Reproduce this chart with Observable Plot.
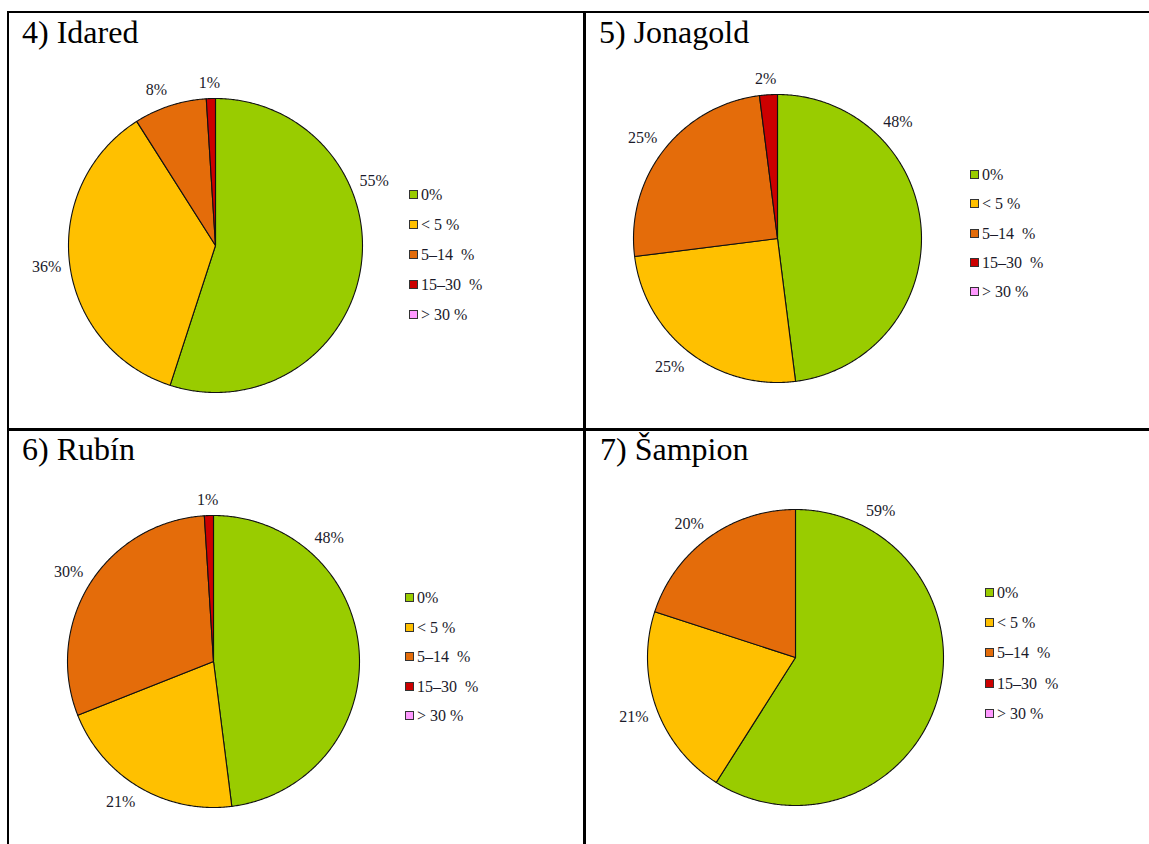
<!DOCTYPE html>
<html>
<head>
<meta charset="utf-8">
<script src="https://cdn.jsdelivr.net/npm/d3@7"></script>
<script src="https://cdn.jsdelivr.net/npm/@observablehq/plot@0.6"></script>
<style>
  html, body { margin: 0; padding: 0; background: #fff; }
  #page { position: relative; width: 1149px; height: 844px; overflow: hidden; font-family: 'Liberation Serif', 'Times New Roman', serif; }
  .line { position: absolute; background: #000; }
  .title { position: absolute; font-family: 'Liberation Serif', serif; font-size: 32px; line-height: 32px; color: #000; white-space: nowrap; }
  .panel { position: absolute; }
  .legend-row { position: absolute; height: 16px; font-family: 'Liberation Serif', serif; font-size: 16px; line-height: 16px; color: #1a1a2a; white-space: pre; }
  .legend-row .sw { position: absolute; left: 0; top: 3px; width: 7px; height: 7px; border: 1px solid #333; }
  .legend-row .lb { position: absolute; left: 12px; top: 0; }
</style>
</head>
<body>
<div id="page"></div>
<script>
// ---- data ----
const categories = ["0%", "< 5 %", "5–14  %", "15–30  %", "> 30 %"];
const colors = ["#99cc00", "#ffc000", "#e46c0a", "#cc0000", "#ff99ff"];
const titles = ["4) Idared", "5) Jonagold", "6) Rubín", "7) Šampion"];
const idared = [55, 36, 8, 1, 0];
const jonagold = [48, 25, 25, 2, 0];
const rubin = [48, 21, 30, 1, 0];
const sampion = [59, 21, 20, 0, 0];
const series = [idared, jonagold, rubin, sampion];

// ---- layout ----
const panels = [
  {left: 9,   top: 13,  w: 574, h: 415, cx: 215, cy: 245, r: 147, titleX: 22,  titleTop: 16,  legX: 409, legY: 195, legStep: 30,   firstLabelAngle: 68},
  {left: 586, top: 13,  w: 563, h: 415, cx: 777, cy: 238, r: 144, titleX: 599, titleTop: 16,  legX: 970, legY: 175, legStep: 29.3, firstLabelAngle: 44},
  {left: 9,   top: 431, w: 574, h: 413, cx: 213, cy: 661, r: 146, titleX: 22,  titleTop: 433, legX: 405, legY: 598, legStep: 29.5, firstLabelAngle: 41},
  {left: 586, top: 431, w: 563, h: 413, cx: 795, cy: 657, r: 148, titleX: 600, titleTop: 433, legX: 985, legY: 593, legStep: 30.2, firstLabelAngle: 27}
];

const page = document.getElementById("page");
function addLine(l, t, w, h) {
  const d = document.createElement("div");
  d.className = "line";
  Object.assign(d.style, {left: l + "px", top: t + "px", width: w + "px", height: h + "px"});
  page.appendChild(d);
}
addLine(7, 11, 1149, 2);     // outer top
addLine(7, 11, 2, 844);      // outer left
addLine(583, 11, 3, 844);    // vertical divider
addLine(7, 428, 1149, 3);    // horizontal divider

const clamp = v => Math.max(-1, Math.min(1, v));

panels.forEach((p, k) => {
  const values = series[k];
  const total = d3.sum(values);
  const rows = [];
  const labels = [];
  let cum = 0;
  values.forEach((v, i) => {
    if (v <= 0) { cum += v; return; }
    const a0 = cum / total * 2 * Math.PI;
    const a1 = (cum + v) / total * 2 * Math.PI;
    const n = Math.max(2, Math.ceil((a1 - a0) / (Math.PI / 360)));
    rows.push({cat: categories[i], x: 0, y: 0});
    for (let j = 0; j <= n; j++) {
      const a = a0 + (a1 - a0) * j / n;
      rows.push({cat: categories[i], x: Math.sin(a), y: Math.cos(a)});
    }
    rows.push({cat: categories[i], x: 0, y: 0});
    const am = (i === 0 ? p.firstLabelAngle * Math.PI / 180 : (a0 + a1) / 2);
    const dx = Math.sin(am), dy = Math.cos(am);
    const gap = 9, halfW = 14, halfH = 7;
    labels.push({
      text: v + "%",
      x: (dx * (p.r + gap) + halfW * clamp(dx * 2.5)) / p.r,
      y: (dy * (p.r + gap) + halfH * clamp(dy * 2.5)) / p.r
    });
    cum += v;
  });

  const cx = p.cx - p.left, cy = p.cy - p.top;
  const chart = Plot.plot({
    width: p.w,
    height: p.h,
    margin: 0,
    style: {background: "transparent", overflow: "visible"},
    x: {domain: [-1, 1], range: [cx - p.r, cx + p.r], axis: null},
    y: {domain: [-1, 1], range: [cy + p.r, cy - p.r], axis: null},
    color: {domain: categories, range: colors},
    marks: [
      Plot.line(rows, {x: "x", y: "y", z: "cat", fill: "cat", stroke: "#111", strokeWidth: 1.1, strokeLinejoin: "round", curve: "linear"}),
      Plot.text(labels, {x: "x", y: "y", text: "text", fontSize: 16, fontFamily: "Liberation Serif", fill: "#1a1a2a", textAnchor: "middle", lineAnchor: "middle"})
    ]
  });
  const holder = document.createElement("div");
  holder.className = "panel";
  Object.assign(holder.style, {left: p.left + "px", top: p.top + "px", width: p.w + "px", height: p.h + "px"});
  holder.appendChild(chart);
  page.appendChild(holder);

  const t = document.createElement("div");
  t.className = "title";
  t.textContent = titles[k];
  Object.assign(t.style, {left: p.titleX + "px", top: p.titleTop + "px"});
  page.appendChild(t);

  categories.forEach((c, i) => {
    const row = document.createElement("div");
    row.className = "legend-row";
    Object.assign(row.style, {left: p.legX + "px", top: (p.legY + i * p.legStep - 8) + "px"});
    const sw = document.createElement("div");
    sw.className = "sw";
    sw.style.background = colors[i];
    const lb = document.createElement("div");
    lb.className = "lb";
    lb.textContent = c;
    row.appendChild(sw);
    row.appendChild(lb);
    page.appendChild(row);
  });
});
</script>
</body>
</html>
